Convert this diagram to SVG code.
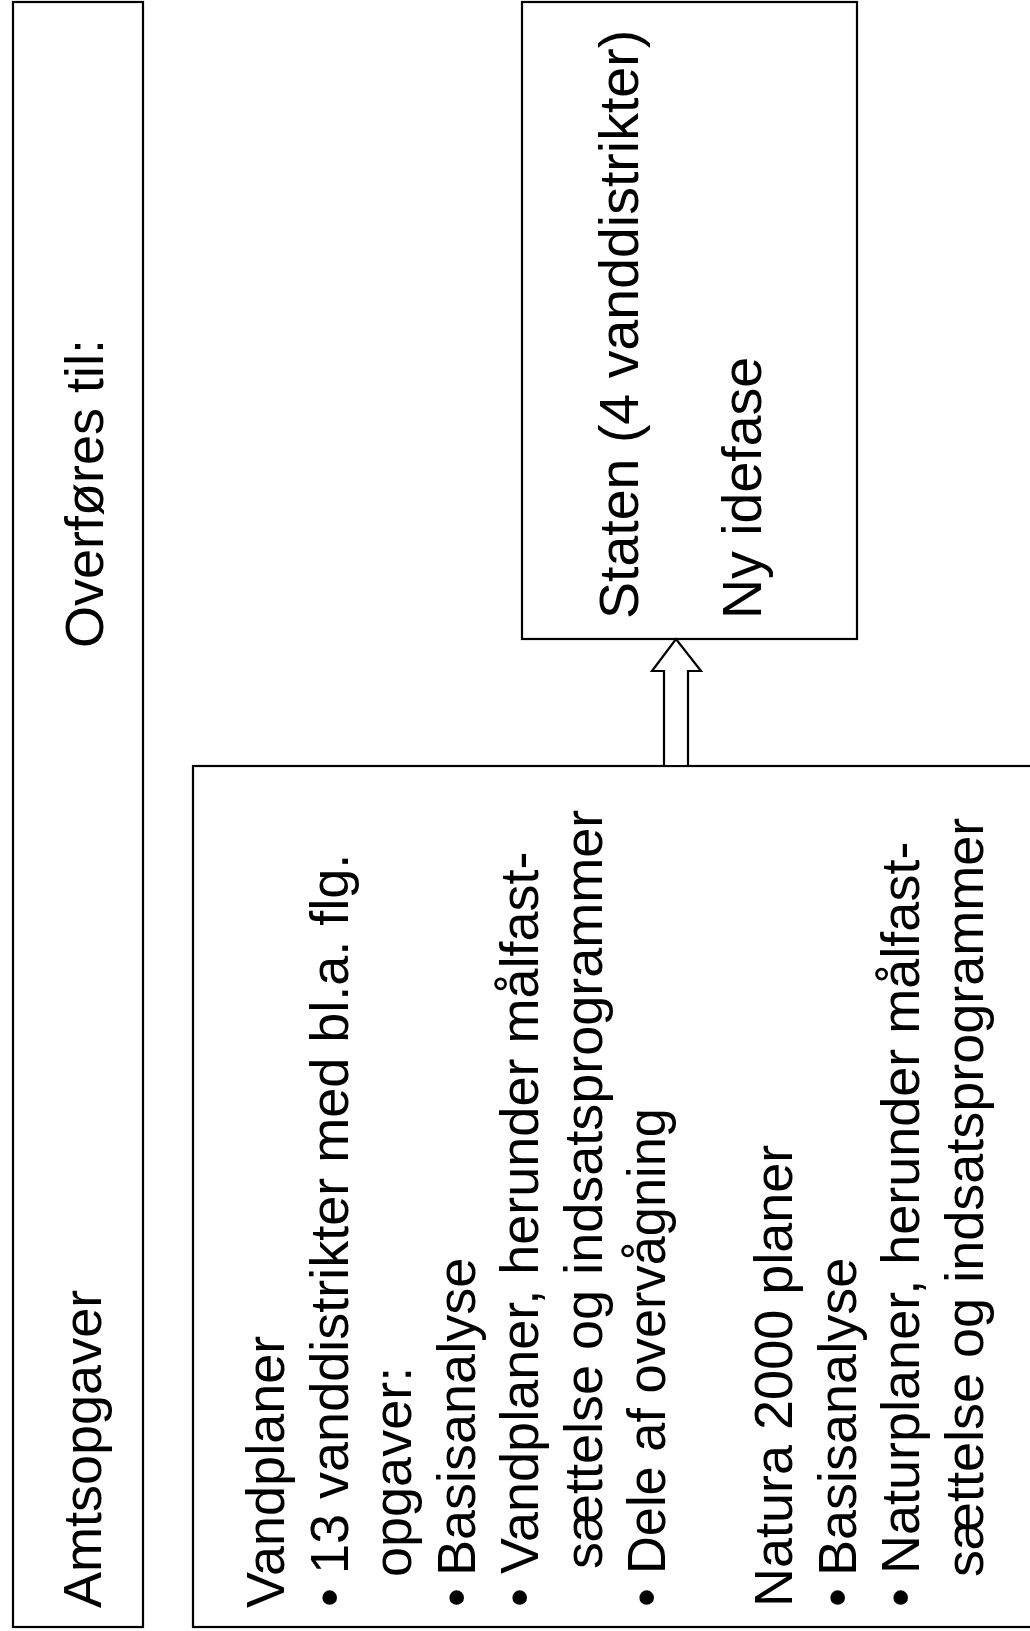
<svg xmlns="http://www.w3.org/2000/svg" width="1030" height="1631" viewBox="0 0 1030 1631">
  <style>
    .box { fill: #ffffff; stroke: #000000; stroke-width: 2.2; }
    .t { font-family: "Liberation Sans", Arial, sans-serif; font-size: 54px; fill: #000000; }
    .tb { font-family: "Liberation Sans", Arial, sans-serif; font-size: 55.5px; fill: #000000; }
    .arrow { fill: #ffffff; stroke: #000000; stroke-width: 2.2; stroke-linejoin: miter; }
  </style>
  <rect width="1030" height="1631" fill="#ffffff"/>

  <g id="header-column">
    <rect class="box" x="13" y="2" width="130" height="1625"/>
    <g transform="rotate(-90)">
      <text class="t" x="-648" y="103">Overføres til:</text>
      <text class="t" x="-1608" y="101">Amtsopgaver</text>
    </g>
  </g>

  <g id="staten">
    <rect class="box" x="522" y="2" width="335" height="637"/>
    <g transform="rotate(-90)">
      <text class="tb" x="-619" y="638">Staten (4 vanddistrikter)</text>
      <text class="tb" x="-619" y="761">Ny idefase</text>
    </g>
  </g>

  <g id="amtsopgaver">
    <rect class="box" x="193" y="766" width="850" height="861"/>
    <g transform="rotate(-90)">
      <text class="t" x="-1608" y="284">Vandplaner</text>
      <text class="t" x="-1607" y="347.5">•</text>
      <text class="t" x="-1574" y="347.5">13 vanddistrikter med bl.a. flg.</text>
      <text class="t" x="-1577" y="411">opgaver:</text>
      <text class="t" x="-1607" y="474.5">•</text>
      <text class="t" x="-1576" y="474.5">Basisanalyse</text>
      <text class="t" x="-1607" y="538">•</text>
      <text class="t" x="-1574" y="538">Vandplaner, herunder målfast-</text>
      <text class="t" x="-1569" y="601.5">sættelse og indsatsprogrammer</text>
      <text class="t" x="-1607" y="665">•</text>
      <text class="t" x="-1574" y="665" textLength="466" lengthAdjust="spacingAndGlyphs">Dele af overvågning</text>
      <text class="t" x="-1607" y="792">Natura 2000 planer</text>
      <text class="t" x="-1607" y="855.5">•</text>
      <text class="t" x="-1576" y="855.5">Basisanalyse</text>
      <text class="t" x="-1607" y="919">•</text>
      <text class="t" x="-1574" y="919">Naturplaner, herunder målfast-</text>
      <text class="t" x="-1577" y="982.5">sættelse og indsatsprogrammer</text>
    </g>
  </g>

  <g id="connectors">
    <polygon class="arrow" points="664,766 664,671 652,671 676,639 701,671 688,671 688,766"/>
  </g>
</svg>
